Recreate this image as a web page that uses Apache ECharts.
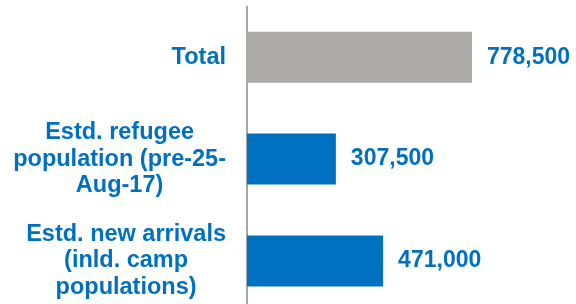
<!DOCTYPE html>
<html>
<head>
<meta charset="utf-8">
<script src="https://cdn.jsdelivr.net/npm/echarts@6/dist/echarts.min.js"></script>
<style>
html,body{margin:0;padding:0;background:#fff;}
#chart{width:576px;height:304px;}
</style>
</head>
<body>
<div id="chart"></div>
<script>
const categories = [
  "Total",
  "Estd. refugee\npopulation (pre-25-\nAug-17)",
  "Estd. new arrivals\n(inld. camp\npopulations)"
];
const values = [778500, 307500, 471000];
const barColors = ["#AEAAAA", "#0070C0", "#0070C0"];

const chart = echarts.init(document.getElementById('chart'), null, {renderer: 'canvas'});
const FONT = "'Liberation Sans', Arial, sans-serif";
const BLUE = "#0070C0";

chart.setOption({
  animation: false,
  backgroundColor: '#ffffff',
  grid: {left: 247, width: 289, top: 6.4, height: 305.4, containLabel: false, outerBoundsMode: 'none'},
  xAxis: {
    type: 'value', min: 0, max: 1000000,
    show: false
  },
  yAxis: {
    type: 'category',
    inverse: true,
    data: categories,
    axisLine: {show: true, lineStyle: {color: '#A6A6A6', width: 2}},
    axisTick: {show: false},
    splitLine: {show: false},
    axisLabel: {
      margin: 21,
      align: 'right',
      fontFamily: FONT,
      fontSize: 23.5,
      fontWeight: 'bold',
      color: BLUE,
      lineHeight: 26.5,
      formatter: function (v) {
        return v.split('\n').map(function (l) { return '{c|' + l + '}'; }).join('\n');
      },
      rich: {
        c: {align: 'center', fontFamily: FONT, fontSize: 23.5, fontWeight: 'bold', color: BLUE, lineHeight: 26.5}
      }
    }
  },
  series: [{
    type: 'bar',
    barWidth: 51,
    data: values.map(function (v, i) { return {value: v, itemStyle: {color: barColors[i]}}; }),
    label: {
      show: true,
      position: 'right',
      distance: 15,
      fontFamily: FONT,
      fontSize: 23,
      fontWeight: 'bold',
      color: BLUE,
      formatter: function (p) { return p.value.toLocaleString('en-US'); }
    }
  }]
});
</script>
</body>
</html>
